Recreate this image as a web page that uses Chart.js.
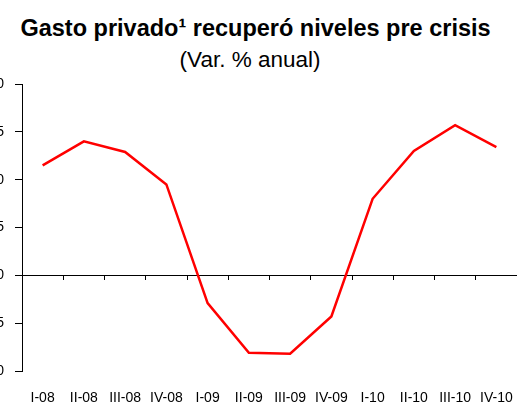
<!DOCTYPE html>
<html>
<head>
<meta charset="utf-8">
<script src="https://cdn.jsdelivr.net/npm/chart.js@4.4.0/dist/chart.umd.min.js"></script>
<style>
  html, body { margin: 0; padding: 0; background: #fff; overflow: hidden; }
  body { width: 517px; height: 405px; position: relative; font-family: "Liberation Sans", Arial, sans-serif; }
  .title { position: absolute; left: 0; text-align: center; color: #000; white-space: nowrap; }
  #t1 { top: 15px; width: 511px; font-size: 23.5px; font-weight: bold; }
  #t2 { top: 47px; width: 500px; font-size: 22.5px; }
  #chart { position: absolute; left: -20px; top: 70px; }
</style>
</head>
<body>
<div class="title" id="t1">Gasto privado¹ recuperó niveles pre crisis</div>
<div class="title" id="t2">(Var. % anual)</div>
<canvas id="chart" width="537" height="337" style="width:537px;height:337px"></canvas>
<script>
// trimestres
const quarters = ['I-08', 'II-08', 'III-08', 'IV-08', 'I-09', 'II-09', 'III-09', 'IV-09', 'I-10', 'II-10', 'III-10', 'IV-10'];
// gasto privado, var. % anual
const gastoPrivado = [11.5, 14.0, 12.9, 9.5, -2.9, -8.1, -8.2, -4.3, 8.0, 13.0, 15.7, 13.4];
// eje y
const yMin = -10;
const yMax = 20;
const yStep = 5;

const ctx = document.getElementById('chart').getContext('2d');
new Chart(ctx, {
    type: 'line',
    data: {
        labels: quarters,
        datasets: [{
            data: gastoPrivado,
            borderColor: '#FF0000',
            borderWidth: 2.5,
            pointRadius: 0,
            tension: 0,
            fill: false,
            xAxisID: 'x',
            yAxisID: 'y'
        }]
    },
    options: {
        responsive: false,
        animation: false,
        layout: { autoPadding: false, padding: { top: 14, right: 0, bottom: 0, left: 0 } },
        plugins: { legend: { display: false }, tooltip: { enabled: false } },
        scales: {
            x: {
                type: 'category',
                position: { y: 0 },
                offset: true,
                afterFit: (scale) => { scale.paddingLeft = 0; scale.paddingRight = 0; },
                grid: { offset: true, drawOnChartArea: false, tickLength: 4, color: '#000' },
                border: { color: '#000', width: 1 },
                ticks: { display: false }
            },
            x2: {
                type: 'category',
                position: 'bottom',
                offset: true,
                afterFit: (scale) => { scale.height = 36; scale.paddingLeft = 0; scale.paddingRight = 0; },
                grid: { display: false, drawTicks: false },
                border: { display: false },
                ticks: { color: '#000', padding: 19, maxRotation: 0, autoSkip: false, font: { family: 'Liberation Sans', size: 14 } }
            },
            y: {
                min: yMin, max: yMax,
                afterFit: (scale) => { scale.width = 42; scale.paddingTop = 0; scale.paddingBottom = 0; },
                grid: { drawOnChartArea: false, tickLength: 7, color: '#000' },
                border: { color: '#000', width: 1 },
                ticks: { stepSize: yStep, color: '#000', padding: 11, font: { family: 'Liberation Sans', size: 14 } }
            }
        }
    }
});
</script>
</body>
</html>
